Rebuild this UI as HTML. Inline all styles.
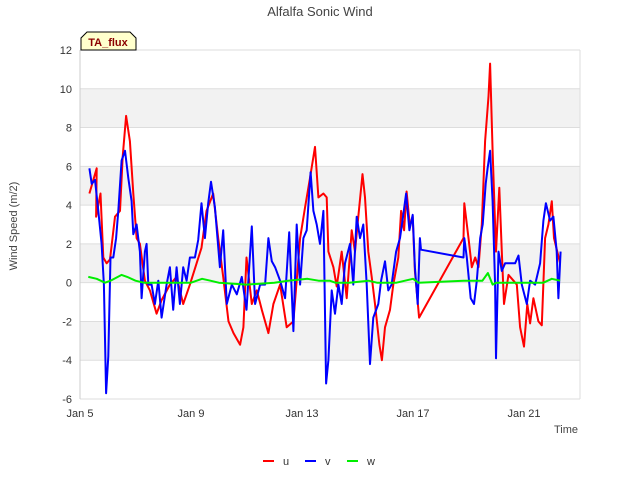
<!DOCTYPE html>
<html><head><meta charset="utf-8"><style>
body{margin:0;background:#fff;}
svg{display:block;font-family:"Liberation Sans",sans-serif;}
</style></head><body>
<svg id="chart" width="640" height="480">
<text x="320" y="16" text-anchor="middle" font-size="13" fill="#444">Alfalfa Sonic Wind</text>
<text transform="translate(17,226) rotate(-90)" text-anchor="middle" font-size="11" fill="#444">Wind Speed (m/2)</text>
<text x="578" y="433" text-anchor="end" font-size="11" fill="#444">Time</text>
<g id="bands"></g>
<g id="grid"></g>
<g id="ticks"></g>
<g id="series"></g>
<g>
<path d="M81,50 L81,38 L87,32 L130,32 L136,38 L136,50 Z" fill="#ffffcc" stroke="#000" stroke-width="1"/>
<text x="108" y="46" text-anchor="middle" font-size="11" font-weight="bold" fill="#8b0000">TA_flux</text>
</g>
<g>
<g><line x1="263" y1="461" x2="274" y2="461" stroke="#ff0000" stroke-width="2"/><text x="283" y="465" font-size="11" fill="#333">u</text></g>
<g><line x1="305" y1="461" x2="316" y2="461" stroke="#0000ff" stroke-width="2"/><text x="325" y="465" font-size="11" fill="#333">v</text></g>
<g><line x1="347" y1="461" x2="358" y2="461" stroke="#00ee00" stroke-width="2"/><text x="367" y="465" font-size="11" fill="#333">w</text></g>
</g>
</svg>
<script>
// days after Jan 5
const xTicks=[0,4,8,12,16];
const xTickLabels=["Jan 5","Jan 9","Jan 13","Jan 17","Jan 21"];
const yTicks=[-6,-4,-2,0,2,4,6,8,10,12];
const uT=[0.34,0.6,0.58,0.74,0.84,0.96,1.08,1.26,1.44,1.54,1.66,1.8,1.92,2.04,2.16,2.34,2.52,2.76,2.94,3.24,3.48,3.72,3.96,4.2,4.38,4.56,4.8,4.98,5.16,5.35,5.53,5.77,5.89,6.0,6.19,6.37,6.55,6.79,6.97,7.21,7.45,7.69,7.93,8.11,8.29,8.47,8.59,8.77,8.89,8.95,9.13,9.25,9.43,9.61,9.79,9.91,10.03,10.18,10.27,10.39,10.51,10.63,10.79,10.88,10.99,11.17,11.29,11.47,11.57,11.68,11.77,11.89,11.99,12.07,12.22,13.82,13.85,14.0,14.12,14.24,14.36,14.48,14.6,14.72,14.78,14.87,14.99,15.11,15.2,15.28,15.44,15.62,15.74,15.86,16.0,16.12,16.22,16.34,16.52,16.64,16.76,16.88,17.0,17.08,17.2,17.3];
const uV=[4.6,5.9,3.4,4.6,1.3,1.0,1.2,3.4,3.7,6.5,8.6,7.3,4.6,2.3,2.0,0.1,-0.4,-1.6,-0.9,-0.1,0.3,-1.1,-0.1,1.0,1.8,3.7,4.6,2.3,0.3,-2.0,-2.6,-3.2,-2.3,1.3,-1.1,-0.4,-1.4,-2.6,-1.1,-0.1,-2.3,-2.0,2.3,3.9,5.4,7.0,4.4,4.6,4.4,1.6,0.8,-0.2,1.6,-0.8,2.7,1.6,3.4,5.6,4.4,1.6,0.3,-1.1,-3.2,-4.0,-2.3,-1.4,-0.1,1.3,3.7,2.7,4.7,2.9,3.4,0.6,-1.8,2.3,4.1,2.3,0.8,1.3,0.8,3.0,7.3,9.6,11.3,6.8,1.6,4.9,1.6,-1.1,0.4,0.1,-0.1,-2.3,-3.3,-1.1,-2.1,-0.8,-2.0,-2.2,2.3,3.0,4.2,2.3,1.6,1.0];
const vT=[0.34,0.42,0.54,0.66,0.78,0.86,0.94,1.02,1.1,1.2,1.3,1.38,1.5,1.62,1.74,1.86,1.92,2.04,2.16,2.22,2.34,2.4,2.46,2.58,2.7,2.82,2.94,3.12,3.24,3.36,3.48,3.6,3.72,3.84,3.96,4.14,4.26,4.38,4.5,4.62,4.72,4.86,5.04,5.16,5.29,5.47,5.65,5.83,6.0,6.19,6.31,6.49,6.67,6.79,6.91,7.03,7.21,7.39,7.54,7.69,7.81,7.93,8.05,8.17,8.31,8.41,8.53,8.65,8.77,8.87,8.95,9.07,9.19,9.31,9.43,9.55,9.73,9.85,9.97,10.09,10.21,10.33,10.45,10.57,10.75,10.85,10.99,11.11,11.23,11.39,11.53,11.65,11.75,11.87,11.99,12.07,12.17,12.25,12.29,13.82,13.85,13.94,14.08,14.2,14.3,14.42,14.51,14.62,14.69,14.78,14.87,14.96,14.99,15.08,15.2,15.32,15.44,15.68,15.8,15.92,16.1,16.22,16.4,16.58,16.7,16.79,16.94,17.06,17.18,17.24,17.32];
const vV=[5.9,5.1,5.3,3.7,2.0,-0.1,-5.7,-3.8,1.3,1.3,2.3,3.7,6.3,6.8,5.4,4.2,2.5,3.0,1.6,-0.8,1.6,2.0,-0.1,-0.1,-1.1,0.1,-1.8,-0.1,0.8,-1.4,0.8,-1.1,0.8,0.1,1.3,1.3,2.2,4.1,2.3,4.1,5.2,3.9,0.8,2.7,-1.1,-0.1,-0.6,0.3,-1.4,2.9,-1.1,-0.1,-0.1,2.3,1.1,0.8,0.1,-0.8,2.6,-2.5,3.0,-0.1,2.3,2.7,5.7,3.7,3.0,2.0,3.7,-5.2,-4.0,-0.4,-1.6,-0.1,-1.1,1.0,2.0,-0.1,3.4,2.3,3.0,-0.1,-4.2,-1.8,-1.1,0.1,1.1,-0.4,-0.1,1.6,2.3,3.5,4.6,2.7,3.5,0.8,-1.1,2.3,1.7,1.3,2.3,1.3,-0.8,-1.1,0.1,2.3,3.0,5.1,5.9,6.8,4.2,-0.1,-3.9,1.6,0.6,1.0,1.0,1.0,1.4,-0.1,-1.1,0.1,-0.1,1.0,3.2,4.1,3.2,3.4,1.6,-0.8,1.6];
const wT=[0.3,0.6,0.9,1.1,1.5,1.7,2.0,2.3,3.0,4.0,4.4,4.7,5.0,6.0,7.0,7.5,8.2,8.6,9.0,9.2,9.7,10.4,10.7,11.4,12.0,12.2,13.82,14.5,14.7,14.87,15.0,15.7,16.7,17.0,17.3];
const wV=[0.3,0.2,0.0,0.1,0.4,0.3,0.1,0.0,0.0,0.0,0.2,0.1,0.0,-0.1,0.0,0.1,0.2,0.1,0.1,0.0,0.0,0.1,0.0,0.0,0.2,0.0,0.1,0.1,0.5,-0.1,0.0,0.0,0.0,0.2,0.1];

const X0=80,X1=580,Y0=50,Y1=399;
const xs=t=>X0+t*27.75;
const ys=v=>Y1-(v+6)*(Y1-Y0)/18;
const NS="http://www.w3.org/2000/svg";
function mk(tag,attrs,parent){const e=document.createElementNS(NS,tag);for(const k in attrs)e.setAttribute(k,attrs[k]);parent.appendChild(e);return e;}
const bands=document.getElementById('bands');
const r0=mk('rect',{x:X0,y:Y0,width:X1-X0,height:Y1-Y0,fill:'#fff'},bands);
for(let i=0;i<yTicks.length-1;i++){
  const lo=yTicks[i],hi=yTicks[i+1];
  if(((lo+6)/2)%2===1){
    const r=mk('rect',{x:X0,y:ys(hi),width:X1-X0,height:ys(lo)-ys(hi),fill:'#f2f2f2'},bands);
    
    
  }
}
const grid=document.getElementById('grid');
const ticks=document.getElementById('ticks');
yTicks.forEach(v=>{
  const l=mk('line',{x1:X0,x2:X1,y1:ys(v),y2:ys(v),stroke:'#dddddd','stroke-width':1},grid);
  
  
  const t=mk('text',{x:72,y:ys(v)+4,'text-anchor':'end','font-size':11,fill:'#333'},ticks);
  t.textContent=v;
  
  
});
mk('line',{x1:X0,x2:X0,y1:Y0,y2:Y1,stroke:'#ccc'},grid);
mk('line',{x1:X1,x2:X1,y1:Y0,y2:Y1,stroke:'#ddd'},grid);
xTicks.forEach((d,i)=>{
  const t=mk('text',{x:xs(d),y:417,'text-anchor':'middle','font-size':11,fill:'#333'},ticks);
  t.textContent=xTickLabels[i];
  
  
});
const series=document.getElementById('series');
function line(T,V,color,name,w){
  const pts=T.map((t,i)=>xs(t).toFixed(1)+','+ys(V[i]).toFixed(1)).join(' ');
  const p=mk('polyline',{points:pts,fill:'none',stroke:color,'stroke-width':w,'stroke-linejoin':'round'},series);
  
  
}
line(uT,uV,'#ff0000','series-u',2);
line(vT,vV,'#0000ff','series-v',2);
line(wT,wV,'#00ee00','series-w',2);
</script>
</body></html>
